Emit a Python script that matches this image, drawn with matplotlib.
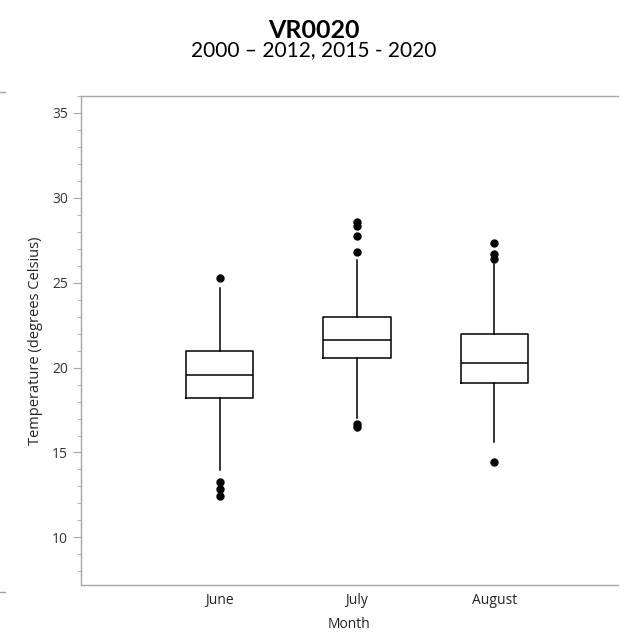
import matplotlib
matplotlib.use("Agg")
import matplotlib.pyplot as plt
from matplotlib.lines import Line2D
from matplotlib.ticker import MultipleLocator

months = ["June", "July", "August"]
q1 = [18.2, 20.57, 19.12]
medians = [19.57, 21.6, 20.26]
q3 = [20.98, 22.99, 21.97]
whisker_lo = [13.95, 17.06, 15.6]
whisker_hi = [24.7, 26.33, 26.1]
fliers = [
    [25.29, 13.26, 12.83, 12.42],
    [28.57, 28.34, 27.75, 26.79, 16.66, 16.49],
    [27.32, 26.69, 26.4, 14.42],
]

axis_font = "Open Sans"
grey = "#a6a6a6"

fig = plt.figure(figsize=(6.28, 6.42), dpi=100)
ax = fig.add_axes([0.129, 0.0888, 0.855, 0.762])

stats = []
for i, m in enumerate(months):
    stats.append({"label": m, "q1": q1[i], "med": medians[i], "q3": q3[i],
                  "whislo": whisker_lo[i], "whishi": whisker_hi[i],
                  "fliers": fliers[i]})

ax.bxp(stats, positions=[1, 2, 3], widths=0.49, showcaps=False,
       boxprops=dict(color="black", linewidth=1.1),
       medianprops=dict(color="black", linewidth=1.1),
       whiskerprops=dict(color="black", linewidth=1.1),
       flierprops=dict(marker="o", markerfacecolor="black",
                       markeredgecolor="black", markersize=5))

ax.set_xlim(-0.01, 3.9)
ax.set_ylim(7.2, 36)
ax.yaxis.set_major_locator(MultipleLocator(5))
ax.yaxis.set_minor_locator(MultipleLocator(1))

ax.spines["right"].set_visible(False)
for s in ["left", "bottom", "top"]:
    ax.spines[s].set_color(grey)
    ax.spines[s].set_linewidth(1.0)

ax.tick_params(axis="y", which="major", length=6, color=grey,
               labelsize=10, labelcolor="#333333")
ax.tick_params(axis="y", which="minor", length=3, color=grey)
ax.tick_params(axis="x", length=0, labelsize=10, labelcolor="#222222", pad=6)
for lab in ax.get_xticklabels() + ax.get_yticklabels():
    lab.set_family(axis_font)

ax.set_xlabel("Month", fontsize=10, family=axis_font, color="#222222", labelpad=6)
ax.set_ylabel("Temperature (degrees Celsius)", fontsize=10.5, family=axis_font,
              color="#222222", labelpad=6)

fig.text(0.5, 0.952, "VR0020", ha="center", va="center", fontsize=18,
         fontweight="bold", family="Lato")
fig.text(0.5, 0.922, "2000 \u2013 2012, 2015 - 2020", ha="center", va="center",
         fontsize=15, family="Lato")

# short frame stubs at the left edge
fig.add_artist(Line2D([0, 0.008], [1 - 92 / 642, 1 - 92 / 642], color=grey, lw=1))
fig.add_artist(Line2D([0, 0.008], [1 - 592 / 642, 1 - 592 / 642], color=grey, lw=1))

fig.savefig("out.png", dpi=100)
